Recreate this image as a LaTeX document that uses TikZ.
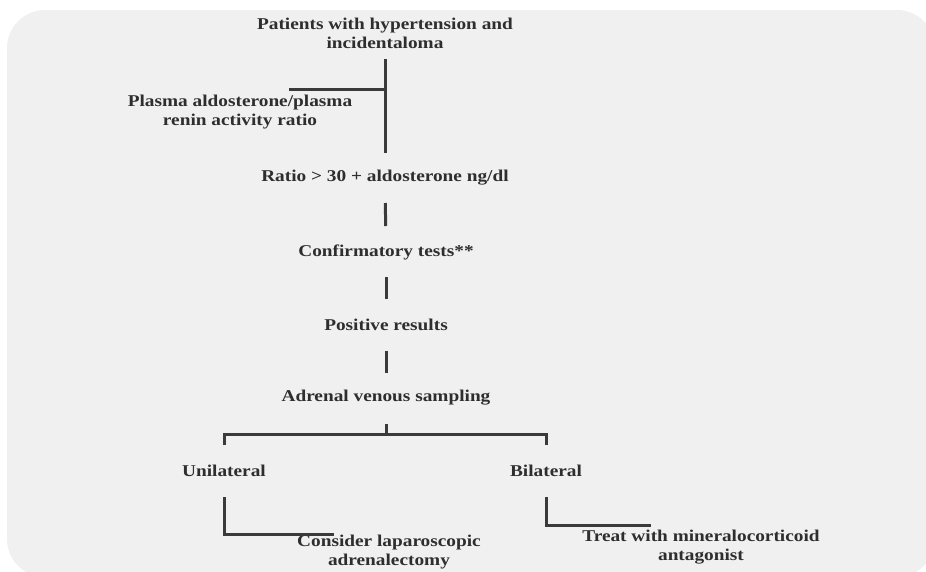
\documentclass[tikz,border=0pt]{standalone}
\usepackage{fontspec}
\setmainfont{Liberation Serif}[FakeStretch=1.17]
\definecolor{paper}{HTML}{F0F0F0}
\definecolor{ink}{HTML}{2E2E2E}
\definecolor{wire}{HTML}{3A3A3A}

\begin{document}
\begin{tikzpicture}[x=1pt,y=-1pt,
                step label/.style={font=\bfseries\fontsize{16.5}{19}\selectfont,text=ink,align=center,inner sep=0pt},
                link/.style={draw=wire,line width=3pt}
                ]
                \useasboundingbox (0,0) rectangle (926,571);
                \fill [paper,rounded corners=38pt] (7,10) rectangle (935,577);
                % main column
                \node [step label] (patients) at (385,33) {Patients with hypertension and\\incidentaloma};
                \node [step label] (plasma) at (240,112) {Plasma aldosterone/plasma\\renin activity ratio};
                \node [step label] (ratio) at (385,178) {Ratio > 30 + aldosterone ng/dl};
                \node [step label] (confirm) at (386,252) {Confirmatory tests**};
                \node [step label] (positive) at (386,325) {Positive results};
                \node [step label] (sampling) at (386,398) {Adrenal venous sampling};
                % branches
                \node [step label] (unilat) at (224,471) {Unilateral};
                \node [step label] (bilat) at (546,471) {Bilateral};
                \node [step label] (surgery) at (389,552) {Consider laparoscopic\\adrenalectomy};
                \node [step label] (treat) at (701,547) {Treat with mineralocorticoid\\antagonist};
                \coordinate (split) at (385,89);
                \coordinate (plasmaend) at (289,89);
                \coordinate (fork) at (386,434);
                \draw [link,shorten <=26pt,shorten >=25pt] (patients.center) -- (ratio.center);
                \draw [link] (split) -- (plasmaend);
                \draw [link,shorten <=25pt,shorten >=26pt] (ratio.center) -- (confirm.center);
                \draw [link,shorten <=25pt,shorten >=26pt] (confirm.center) -- (positive.center);
                \draw [link,shorten <=26pt,shorten >=25pt] (positive.center) -- (sampling.center);
                \draw [link] ([yshift=-26pt]sampling.center) -- (fork);
                \draw [link] ([yshift=26pt]unilat.center) |- (fork) -| ([yshift=26pt]bilat.center);
                \draw [link] ([yshift=-26pt]unilat.center) |- ([xshift=-55pt]surgery.north);
                \draw [link] ([yshift=-26pt]bilat.center) |- ([xshift=-50pt,yshift=4pt]treat.north);
\end{tikzpicture}
\end{document}
